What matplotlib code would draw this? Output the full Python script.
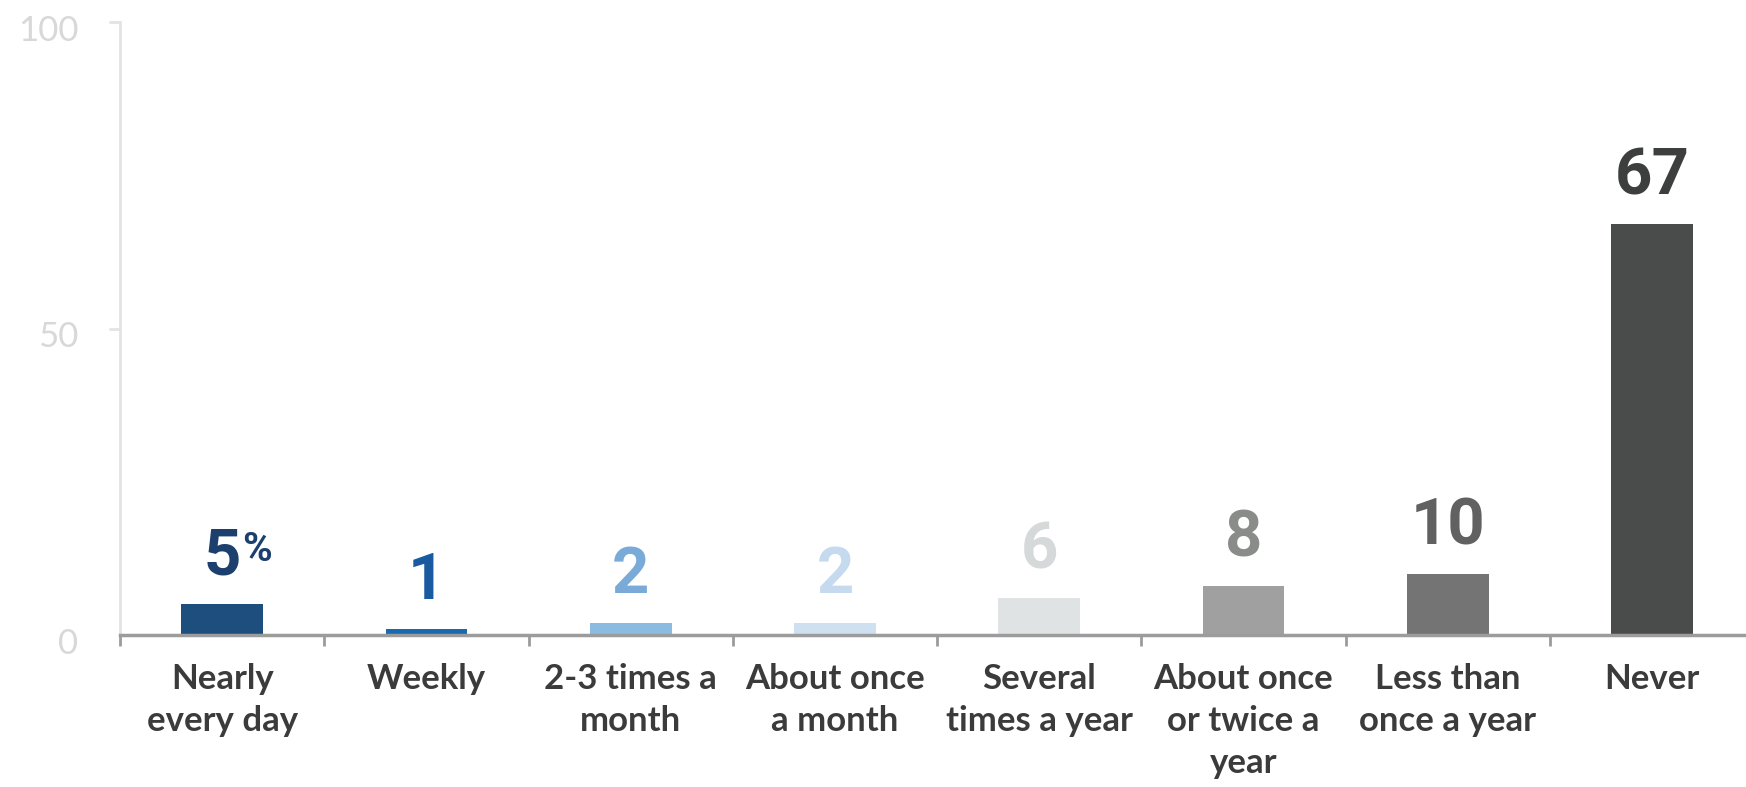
import matplotlib.pyplot as plt
import matplotlib.transforms as mtransforms
import numpy as np

categories = ["Nearly\nevery day", "Weekly", "2-3 times a\nmonth", "About once\na month",
              "Several\ntimes a year", "About once\nor twice a\nyear", "Less than\nonce a year", "Never"]
values = [5, 1, 2, 2, 6, 8, 10, 67]
bar_colors = ["#1d4e7e", "#1a69ae", "#8cbbe1", "#cfe0f1", "#dfe3e3", "#9fa09f", "#737473", "#4a4c4b"]
label_colors = ["#1c3f6e", "#1a5aa0", "#7aaad8", "#c5d9ef", "#d6d9d9", "#8a8c8a", "#606160", "#3d3f3e"]
yticks = [0, 50, 100]

fig = plt.figure(figsize=(17.46, 7.87), dpi=100)
ax = fig.add_axes([120 / 1746, 1 - 635 / 787, 1 - 120 / 1746, (635 - 22) / 787])

x = np.arange(len(values))
ax.bar(x, values, width=0.4, color=bar_colors, zorder=2)

ax.set_xlim(-0.5, 7.46)
ax.set_ylim(0, 100)

num_font = ['Roboto', 'DejaVu Sans']
labels = []
for i, v in enumerate(values):
    t = ax.annotate(str(v), (x[i], v), xytext=(0, 12), textcoords='offset points',
                    ha='center', va='bottom', fontsize=47, fontweight='bold',
                    color=label_colors[i], family=num_font)
    labels.append(t)
# percent sign next to the first label
ax.annotate("%", xy=(1, 0.93), xycoords=labels[0], xytext=(1, 0), textcoords='offset points',
            ha='left', va='top', fontsize=29, fontweight='bold',
            color=label_colors[0], family=num_font)

for s in ['top', 'right']:
    ax.spines[s].set_visible(False)
ax.spines['left'].set_color('#e2e4e4')
ax.spines['left'].set_linewidth(2)
ax.spines['bottom'].set_color('#9c9c9c')
ax.spines['bottom'].set_linewidth(2.5)
ax.spines['bottom'].set_zorder(3)

ax.set_yticks(yticks)
ax.set_yticklabels([str(t) for t in yticks], family='Lato', fontweight='normal',
                   fontsize=25, color='#d8d8d8')
ax.tick_params(axis='y', length=8, width=2, color='#e2e4e4', pad=22)
ax.yaxis.get_major_ticks()[0].tick1line.set_visible(False)
offset = mtransforms.ScaledTranslation(0, -4 / 72, fig.dpi_scale_trans)
for lab in ax.get_yticklabels():
    lab.set_transform(lab.get_transform() + offset)

ax.set_xticks(x)
ax.set_xticklabels(categories, family='Lato', fontweight='bold', fontsize=25,
                   color='#3b3b3b', linespacing=1.38)
ax.tick_params(axis='x', which='major', length=0, pad=20)
ax.set_xticks(np.arange(-0.5, 7.5, 1), minor=True)
ax.tick_params(axis='x', which='minor', length=8, width=2, color='#9c9c9c')

fig.savefig("out.png", dpi=100)
